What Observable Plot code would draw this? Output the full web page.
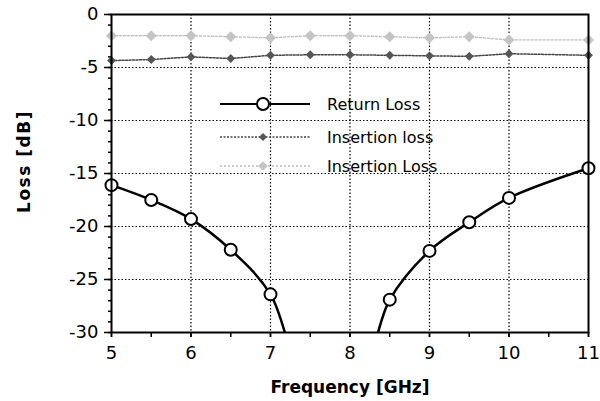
<!DOCTYPE html>
<html><head><meta charset="utf-8">
<script src="https://cdn.jsdelivr.net/npm/d3@7"></script>
<script src="https://cdn.jsdelivr.net/npm/@observablehq/plot@0.6"></script>
<style>
body{margin:0;background:#fff;}
#wrap{position:relative;width:600px;height:401px;font-family:"DejaVu Sans",sans-serif;}
#legend{position:absolute;left:0;top:0;pointer-events:none;}
svg text{font-family:"DejaVu Sans",sans-serif;}
</style></head>
<body><div id="wrap"><div id="chart"></div><svg id="legend" width="600" height="401"></svg></div>
<script>
const freqRL = [5, 5.5, 6, 6.5, 7, 7.5, 8, 8.5, 9, 9.5, 10, 11];
const returnLoss = [-16.1, -17.5, -19.3, -22.2, -26.4, -36, -37, -26.9, -22.3, -19.6, -17.3, -14.5];
const freqIL = [5, 5.5, 6, 6.5, 7, 7.5, 8, 8.5, 9, 9.5, 10, 11];
const insLossDark = [-4.35, -4.25, -4.0, -4.15, -3.85, -3.8, -3.8, -3.85, -3.9, -3.95, -3.7, -3.85];
const insLossLight = [-2.0, -2.0, -2.0, -2.1, -2.2, -2.0, -2.0, -2.1, -2.2, -2.1, -2.4, -2.4];
const xTicks = [5, 6, 7, 8, 9, 10, 11];
const yTicks = [0, -5, -10, -15, -20, -25, -30];
const legendLabels = ["Return Loss", "Insertion loss", "Insertion Loss"];

const rl = freqRL.map((f, i) => ({f, v: returnLoss[i]}));
const ild = freqIL.map((f, i) => ({f, v: insLossDark[i]}));
const ill = freqIL.map((f, i) => ({f, v: insLossLight[i]}));
const fmt = d => String(d);

const chart = Plot.plot({
  width: 600, height: 401,
  marginLeft: 111, marginRight: 12, marginTop: 14, marginBottom: 69,
  style: {fontSize: "18px", fontFamily: "DejaVu Sans, sans-serif", color: "#000", background: "#fff"},
  x: {domain: [5, 11], label: null},
  y: {domain: [-30, 0], label: null},
  marks: [
    Plot.ruleX(xTicks.slice(1, -1), {stroke: "#000", strokeWidth: 1.2, strokeDasharray: "1.5,2"}),
    Plot.ruleY(yTicks.slice(1, -1), {stroke: "#000", strokeWidth: 1.2, strokeDasharray: "1.5,2"}),
    Plot.axisY(d3.range(-30, 1, 1), {tickSize: 3, text: null, label: null, strokeWidth: 1.5}),
    Plot.axisY(yTicks, {tickSize: 7, tickPadding: 6, strokeWidth: 1.5, tickFormat: fmt, label: "Loss [dB]", labelAnchor: "center", labelOffset: 94, labelArrow: "none"}),
    Plot.axisX(d3.range(5, 11.01, 0.5), {tickSize: 5, text: null, label: null, strokeWidth: 1.5}),
    Plot.axisX(xTicks, {tickSize: 5, tickPadding: 9, strokeWidth: 1.5, tickFormat: fmt, label: "Frequency [GHz]", labelAnchor: "center", labelOffset: 60, labelArrow: "none"}),
    Plot.lineY(ill, {x: "f", y: "v", stroke: "#bbb", strokeWidth: 1.3, strokeDasharray: "2,2"}),
    Plot.dot(ill, {x: "f", y: "v", symbol: "diamond2", fill: "#c4c4c4", r: 5}),
    Plot.lineY(ild, {x: "f", y: "v", stroke: "#444", strokeWidth: 1.5, strokeDasharray: "2,1.5"}),
    Plot.dot(ild, {x: "f", y: "v", symbol: "diamond2", fill: "#555", r: 4}),
    Plot.lineY(rl, {x: "f", y: "v", stroke: "#000", strokeWidth: 2.5, curve: "catmull-rom", clip: true}),
    Plot.dot(rl.filter(d => d.v >= -30), {x: "f", y: "v", stroke: "#000", strokeWidth: 2, fill: "#fff", r: 6}),
    Plot.frame({stroke: "#000", strokeWidth: 2})
  ]
});
document.getElementById("chart").appendChild(chart);
d3.select(chart).selectAll('[aria-label$="tick label"] text').style("font-size", "18px");
d3.select(chart).selectAll('[aria-label="x-axis label"] text').style("font-weight", "bold").style("font-size", "17px");
d3.select(chart).selectAll('[aria-label="y-axis label"] text').style("font-weight", "bold").style("font-size", "17px").style("letter-spacing", "1.5px").attr("dx", 12);

const lg = d3.select("#legend");
const rows = [
  {y: 104, stroke: "#000", sw: 2, dash: null, marker: "circle"},
  {y: 137, stroke: "#444", sw: 1.5, dash: "2,1.5", marker: "dd"},
  {y: 166, stroke: "#bbb", sw: 1.3, dash: "2,2", marker: "dl"}
];
rows.forEach((r, i) => {
  lg.append("line").attr("x1", 220).attr("x2", 310).attr("y1", r.y).attr("y2", r.y)
    .attr("stroke", r.stroke).attr("stroke-width", r.sw).attr("stroke-dasharray", r.dash);
  if (r.marker === "circle") lg.append("circle").attr("cx", 263).attr("cy", r.y).attr("r", 6).attr("fill", "#fff").attr("stroke", "#000").attr("stroke-width", 2);
  else lg.append("path").attr("d", d3.symbol(d3.symbolDiamond2, r.marker === "dd" ? 40 : 60)()).attr("transform", `translate(263,${r.y})`).attr("fill", r.marker === "dd" ? "#555" : "#c4c4c4");
  lg.append("text").attr("x", 327).attr("y", r.y + 6).attr("font-size", 16).text(legendLabels[i]);
});
</script></body></html>
